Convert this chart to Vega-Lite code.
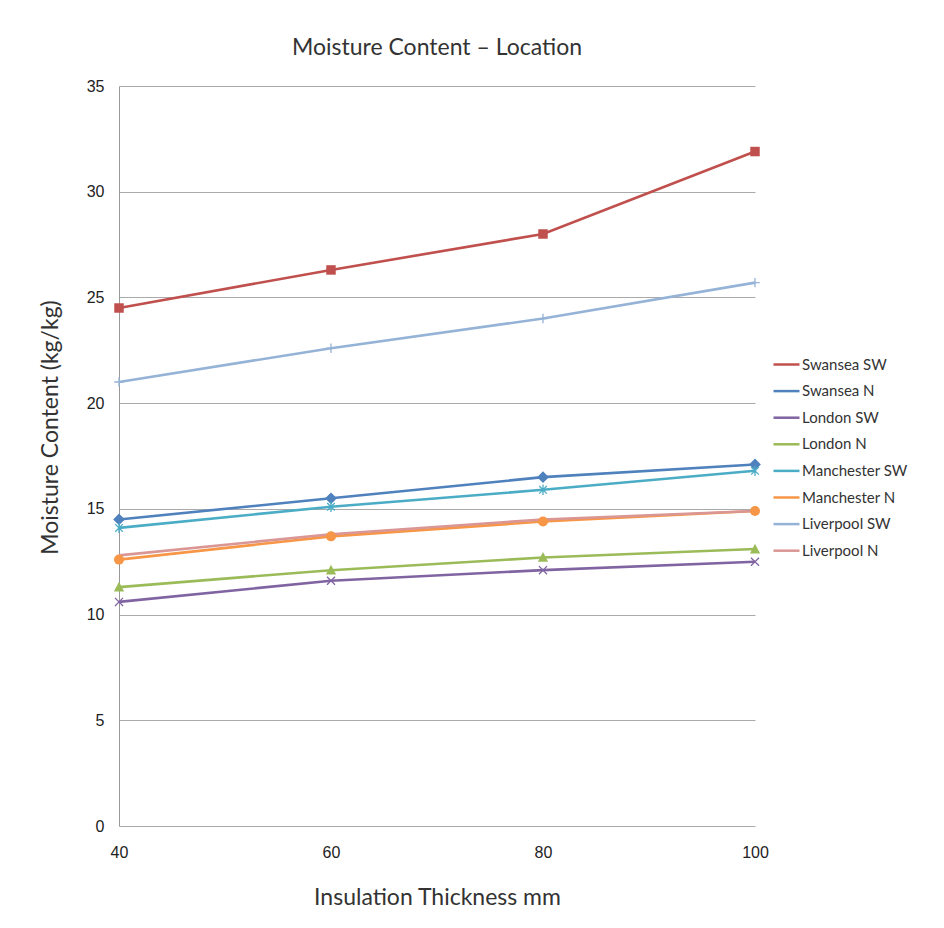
{
  "$schema": "https://vega.github.io/schema/vega-lite/v6.json",
  "width": 636,
  "height": 740,
  "autosize": "none",
  "padding": {"left": 119, "top": 86, "right": 189, "bottom": 102},
  "background": "white",
  "title": {
    "text": "Moisture Content – Location",
    "font": "Lato",
    "fontSize": 23,
    "fontWeight": "normal",
    "color": "#333333",
    "anchor": "middle",
    "offset": 18
  },
  "config": {
    "view": {"stroke": null},
    "axis": {
      "labelFont": "Liberation Sans",
      "labelFontSize": 16,
      "labelColor": "#222222",
      "labelFlush": false,
      "titleFont": "Lato",
      "titleFontSize": 23,
      "titleFontWeight": "normal",
      "titleColor": "#333333",
      "domainColor": "#999999",
      "gridColor": "#AAAAAA",
      "ticks": false
    },
    "legend": {
      "title": null,
      "orient": "none",
      "legendX": 653,
      "legendY": 264,
      "symbolSize": 676,
      "symbolStrokeWidth": 2.5,
      "labelFont": "Lato",
      "labelFontSize": 15,
      "labelColor": "#333333",
      "labelOffset": 1,
      "rowPadding": 3.6
    }
  },
  "data": {
    "values": [
      {"thickness": 40, "series": "Swansea SW", "moisture": 24.5},
      {"thickness": 60, "series": "Swansea SW", "moisture": 26.3},
      {"thickness": 80, "series": "Swansea SW", "moisture": 28.0},
      {"thickness": 100, "series": "Swansea SW", "moisture": 31.9},
      {"thickness": 40, "series": "Swansea N", "moisture": 14.5},
      {"thickness": 60, "series": "Swansea N", "moisture": 15.5},
      {"thickness": 80, "series": "Swansea N", "moisture": 16.5},
      {"thickness": 100, "series": "Swansea N", "moisture": 17.1},
      {"thickness": 40, "series": "London SW", "moisture": 10.6},
      {"thickness": 60, "series": "London SW", "moisture": 11.6},
      {"thickness": 80, "series": "London SW", "moisture": 12.1},
      {"thickness": 100, "series": "London SW", "moisture": 12.5},
      {"thickness": 40, "series": "London N", "moisture": 11.3},
      {"thickness": 60, "series": "London N", "moisture": 12.1},
      {"thickness": 80, "series": "London N", "moisture": 12.7},
      {"thickness": 100, "series": "London N", "moisture": 13.1},
      {"thickness": 40, "series": "Manchester SW", "moisture": 14.1},
      {"thickness": 60, "series": "Manchester SW", "moisture": 15.1},
      {"thickness": 80, "series": "Manchester SW", "moisture": 15.9},
      {"thickness": 100, "series": "Manchester SW", "moisture": 16.8},
      {"thickness": 40, "series": "Manchester N", "moisture": 12.6},
      {"thickness": 60, "series": "Manchester N", "moisture": 13.7},
      {"thickness": 80, "series": "Manchester N", "moisture": 14.4},
      {"thickness": 100, "series": "Manchester N", "moisture": 14.9},
      {"thickness": 40, "series": "Liverpool SW", "moisture": 21.0},
      {"thickness": 60, "series": "Liverpool SW", "moisture": 22.6},
      {"thickness": 80, "series": "Liverpool SW", "moisture": 24.0},
      {"thickness": 100, "series": "Liverpool SW", "moisture": 25.7},
      {"thickness": 40, "series": "Liverpool N", "moisture": 12.8},
      {"thickness": 60, "series": "Liverpool N", "moisture": 13.8},
      {"thickness": 80, "series": "Liverpool N", "moisture": 14.5},
      {"thickness": 100, "series": "Liverpool N", "moisture": 14.9}
    ]
  },
  "encoding": {
    "x": {
      "field": "thickness",
      "type": "quantitative",
      "scale": {"domain": [40, 100], "nice": false, "zero": false},
      "axis": {"values": [40, 60, 80, 100], "grid": false, "title": "Insulation Thickness mm", "labelPadding": 18, "titlePadding": 26, "domain": false}
    },
    "y": {
      "field": "moisture",
      "type": "quantitative",
      "scale": {"domain": [0, 35], "nice": false},
      "axis": {"values": [0, 5, 10, 15, 20, 25, 30, 35], "title": "Moisture Content (kg/kg)", "labelPadding": 15, "titlePadding": 24, "titleY": 341}
    }
  },
  "layer": [
    {
      "mark": {"type": "line", "strokeWidth": 2.6, "opacity": 1},
      "encoding": {
        "stroke": {
          "field": "series",
          "type": "nominal",
          "scale": {
            "domain": ["Swansea SW", "Swansea N", "London SW", "London N", "Manchester SW", "Manchester N", "Liverpool SW", "Liverpool N"],
            "range": ["#C0504D", "#4F81BD", "#8064A2", "#9BBB59", "#4BACC6", "#F79646", "#95B3D7", "#D99694"]
          },
          "legend": {}
        }
      }
    },
    {
      "transform": [{"filter": {"field": "series", "equal": "Swansea SW"}}],
      "mark": {"type": "point", "filled": true, "opacity": 1, "size": 90, "shape": "square", "color": "#C0504D"}
    },
    {
      "transform": [{"filter": {"field": "series", "equal": "Swansea N"}}],
      "mark": {"type": "point", "filled": true, "opacity": 1, "size": 95, "shape": "M0,-1.2L1.2,0L0,1.2L-1.2,0Z", "color": "#4F81BD"}
    },
    {
      "transform": [{"filter": {"field": "series", "equal": "London SW"}}],
      "mark": {"type": "point", "filled": false, "opacity": 1, "size": 90, "strokeWidth": 1.3, "shape": "M-0.85,-0.85L0.85,0.85M-0.85,0.85L0.85,-0.85", "color": "#8064A2"}
    },
    {
      "transform": [{"filter": {"field": "series", "equal": "London N"}}],
      "mark": {"type": "point", "filled": true, "opacity": 1, "size": 95, "shape": "M0,-1.1L1.05,0.9H-1.05Z", "color": "#9BBB59"}
    },
    {
      "transform": [{"filter": {"field": "series", "equal": "Manchester SW"}}],
      "mark": {"type": "point", "filled": false, "opacity": 1, "size": 90, "strokeWidth": 1.3, "shape": "M-0.8,-0.8L0.8,0.8M-0.8,0.8L0.8,-0.8M0,-1.1V1.1", "color": "#4BACC6"}
    },
    {
      "transform": [{"filter": {"field": "series", "equal": "Manchester N"}}],
      "mark": {"type": "point", "filled": true, "opacity": 1, "size": 100, "shape": "circle", "color": "#F79646"}
    },
    {
      "transform": [{"filter": {"field": "series", "equal": "Liverpool SW"}}],
      "mark": {"type": "point", "filled": false, "opacity": 1, "size": 90, "strokeWidth": 1.3, "shape": "M0,-1V1M-1,0H1", "color": "#95B3D7"}
    }
  ]
}
